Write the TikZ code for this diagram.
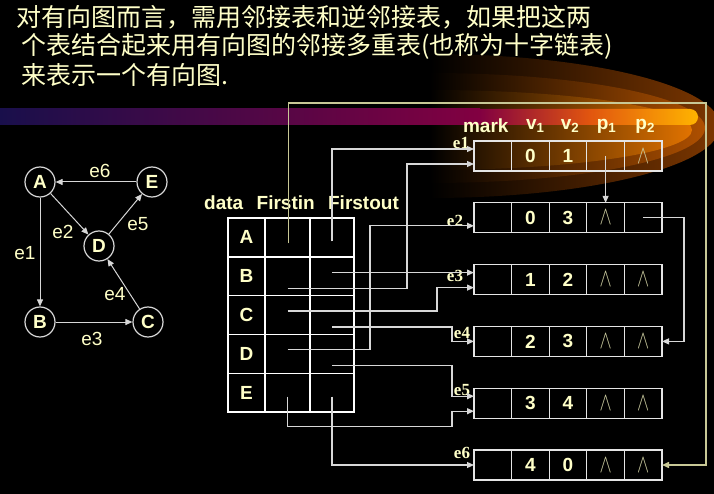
\documentclass[tikz,border=0pt]{standalone}
\usepackage{fontspec}
\setmainfont{Liberation Sans}
\newfontfamily\cjk{Noto Sans CJK SC}
\newfontfamily\timesfont{Liberation Serif}
\usetikzlibrary{backgrounds}
\usetikzlibrary{calc,positioning,arrows.meta}

\definecolor{txt}{RGB}{255,255,200}
\definecolor{lgray}{RGB}{215,215,215}
\definecolor{ringline}{RGB}{200,200,150}
\definecolor{swooshA}{RGB}{125,55,0}
\definecolor{swooshB}{RGB}{175,80,0}
\definecolor{swooshC}{RGB}{225,115,0}
\definecolor{stripeL}{RGB}{25,15,75}
\definecolor{stripeM}{RGB}{130,0,65}
\definecolor{stripeO}{RGB}{225,85,15}
\definecolor{stripeY}{RGB}{255,180,0}

\newcommand{\nullp}{{\color{txt!80!black}\scalebox{1.05}[1.5]{$\wedge$}}}

\begin{document}
\begin{tikzpicture}[
    x=1pt, y=-1pt,
    show background rectangle,
    tight background,
    background rectangle/.style={fill=black},
    title/.style={inner sep=0pt, anchor=west, text=txt, font=\cjk\fontsize{25}{29}\selectfont},
    gnode/.style={circle, draw=lgray, line width=1.2pt, minimum size=30pt, inner sep=0pt,
                  text=txt, font=\bfseries\fontsize{19}{22}\selectfont},
    garrow/.style={draw=lgray, line width=1pt, -{Triangle[length=7pt,width=6pt]}},
    glab/.style={inner sep=0pt, text=txt, font=\fontsize{19}{21}\selectfont},
    hd/.style={inner sep=0pt, text=txt, font=\bfseries\fontsize{19}{22}\selectfont},
    vcell/.style={draw=white, line width=1.2pt, minimum height=38.8pt, inner sep=0pt, outer sep=0pt,
                  text=txt, font=\bfseries\fontsize{19}{22}\selectfont},
    ecell/.style={draw=white!90!black, line width=1.2pt, minimum width=37.6pt, minimum height=30pt,
                  inner sep=0pt, outer sep=0pt, text=txt, font=\bfseries\fontsize{19}{22}\selectfont},
    tag/.style={inner sep=0pt, text=txt, font=\timesfont\bfseries\fontsize{17}{19}\selectfont},
    ptr/.style={draw=lgray, line width=1.2pt, -{Triangle[length=7pt,width=6pt]}},
    ringptr/.style={draw=ringline, line width=1.5pt, -{Triangle[length=7pt,width=6pt]}},
 ]
    \useasboundingbox (0,0) rectangle (714,494);

    % orange swoosh and stripe
    \begin{scope}
        \clip (430,40) rectangle (714,215);
        \shade[left color=black, right color=swooshA, middle color=black] (430,126) ellipse [x radius=290, y radius=72];
        \shade[left color=black, right color=swooshB, middle color=black] (430,128) ellipse [x radius=275, y radius=55];
        \shade[left color=black, right color=swooshC, middle color=black] (430,130) ellipse [x radius=262, y radius=40];
    \end{scope}
    \shade[left color=stripeL, right color=stripeM] (0,109) rectangle (480,125);
    \shade[left color=stripeM, right color=stripeY, middle color=stripeO, rounded corners=8pt]
        (480,109) -- (698,109) -- (698,125) -- (480,125);

    \node[title] (line1) at (16,17) {对有向图而言，需用邻接表和逆邻接表，如果把这两};
    \node[title] (line2) at (21,46) {个表结合起来用有向图的邻接多重表(也称为十字链表)};
    \node[title] (line3) at (21,75) {来表示一个有向图.};

    % the digraph
    \node[gnode] (A) at (40,182) {A};
    \node[gnode] (E) at (152,182) {E};
    \node[gnode] (D) at (99,246) {D};
    \node[gnode] (B) at (40,322) {B};
    \node[gnode] (C) at (148,322) {C};
    \draw[garrow] (A) -- (B);
    \draw[garrow] (A) -- (D);
    \draw[garrow] (B) -- (C);
    \draw[garrow] (C) -- (D);
    \draw[garrow] (D) -- (E);
    \draw[garrow] (E) -- (A);
    \node[glab] (lab1) at (25,253) {e1};
    \node[glab] (lab2) at (63,232) {e2};
    \node[glab] (lab3) at (92,339) {e3};
    \node[glab] (lab4) at (115,294) {e4};
    \node[glab] (lab5) at (138,224) {e5};
    \node[glab] (lab6) at (100,171) {e6};

    % vertex table
    \node[hd, anchor=west] (hdata) at (204,203) {data};
    \node[hd, right=13pt of hdata] (hin) {Firstin};
    \node[hd, right=13pt of hin] (hout) {Firstout};
    \foreach \v [count=\i from 0] in {A,B,C,D,E} {
        \node[vcell, minimum width=37pt] (\v-data) at (246.5,{237.4+38.8*\i}) {\v};
        \node[vcell, minimum width=45pt, right=0pt of \v-data] (\v-in) {};
        \node[vcell, minimum width=44pt, right=0pt of \v-in] (\v-out) {};
    }
    \draw[white, line width=2pt] (A-data.south west) -- (A-out.south east);
    \draw[white, line width=2.5pt] (E-data.south west) -- (E-out.south east);

    % edge table
    \foreach \a/\b/\c/\d [count=\i] in {0/1/{}/\nullp, 0/3/\nullp/{}, 1/2/\nullp/\nullp,
                                         2/3/\nullp/\nullp, 3/4/\nullp/\nullp, 4/0/\nullp/\nullp} {
        \node[ecell] (r\i-mark) at (492.8,{156+61.8*(\i-1)}) {};
        \node[ecell, right=0pt of r\i-mark] (r\i-v1) {\a};
        \node[ecell, right=0pt of r\i-v1] (r\i-v2) {\b};
        \node[ecell, right=0pt of r\i-v2] (r\i-p1) {\c};
        \node[ecell, right=0pt of r\i-p1] (r\i-p2) {\d};
        \coordinate (r\i-hi) at ($(r\i-mark.west)+(0,-7)$);
        \coordinate (r\i-lo) at ($(r\i-mark.west)+(0,8)$);
    }
    \foreach \i/\dx/\dy in {1/-13/-13, 2/-19/3, 3/-19/-4, 4/-12/-8, 5/-12/-13, 6/-12/-12}
        \node[tag] (tag\i) at ($(r\i-mark.west)+(\dx,\dy)$) {e\i};
    \node[hd] (hmark) at ($(r1-mark.north)+(-7,-15)$) {mark};
    \node[hd] (hv1) at ($(r1-v1.north)+(5,-15)$) {v\textsubscript{1}};
    \node[hd] (hv2) at ($(r1-v2.north)+(2,-15)$) {v\textsubscript{2}};
    \node[hd] (hp1) at ($(r1-p1.north)+(1,-15)$) {p\textsubscript{1}};
    \node[hd] (hp2) at ($(r1-p2.north)+(2,-15)$) {p\textsubscript{2}};

    % pointers
    \coordinate (ring) at (706,103);
    \draw[ringptr] ($(A-in.center)+(1,6)$) |- (ring) |- (r6-p2.east);
    \draw[ptr] ($(A-out.center)+(0,4)$) |- (r1-hi);
    \draw[ptr] (B-out.center |- r3-hi) -- (r3-hi);
    \draw[ptr] ($(B-in.center)+(0,12)$) -| ($(r1-lo)+(-67,0)$) -- (r1-lo);
    \draw[ptr] ($(C-in.center)+(0,-4)$) -| ($(r3-lo)+(-37,0)$) -- (r3-lo);
    \draw[ptr] ($(C-out.center)+(0,12)$) -| ($(r4-mark.west)+(-22,0)$) -- (r4-mark.west);
    \draw[ptr] ($(D-in.center)+(0,-4)$) -| ($(r2-lo)+(-104,0)$) -- (r2-lo);
    \draw[ptr] ($(D-out.center)+(0,12)$) -| ($(r5-hi)+(-22,0)$) -- (r5-hi);
    \draw[ptr] ($(E-in.center)+(0,4)$) -- ++(0,30) -| ($(r5-lo)+(-22,0)$) -- (r5-lo);
    \draw[ptr] ($(E-out.center)+(0,4)$) |- (r6-mark.west);
    \draw[ptr] (r1-p1.center) -- (r2-p1.north);
    \draw[ptr] (r2-p2.center) -| ($(r4-p2.east)+(22,0)$) -- (r4-p2.east);
\end{tikzpicture}
\end{document}
